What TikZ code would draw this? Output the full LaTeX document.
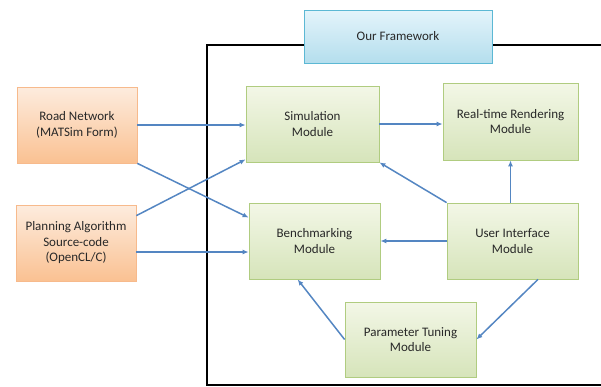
\documentclass[tikz,border=0pt]{standalone}
\usepackage{fontspec}
\setmainfont{Carlito}
\usetikzlibrary{arrows.meta,shadows}

\definecolor{arrowblue}{RGB}{84,134,194}
\definecolor{modtop}{RGB}{243,247,231}
\definecolor{modbot}{RGB}{214,228,186}
\definecolor{modline}{RGB}{176,204,128}
\definecolor{intop}{RGB}{253,236,222}
\definecolor{inbot}{RGB}{250,193,146}
\definecolor{inline}{RGB}{247,186,140}
\definecolor{fwtop}{RGB}{228,244,251}
\definecolor{fwbot}{RGB}{180,222,237}
\definecolor{fwline}{RGB}{92,184,212}
\definecolor{txt}{RGB}{40,40,40}

\begin{document}
\begin{tikzpicture}[x=1pt,y=-1pt,
	>={Latex[length=6pt,width=5pt]},
	box/.style={draw,line width=0.8pt,align=center,inner sep=0pt,text=txt,
		font=\fontsize{13}{15.5}\selectfont,
		drop shadow={shadow xshift=0.6pt,shadow yshift=-1.2pt,opacity=0.35}},
	module/.style={box,top color=modtop,bottom color=modbot,draw=modline},
	input/.style={box,top color=intop,bottom color=inbot,draw=inline},
	link/.style={->,color=arrowblue,line width=1.5pt}]

\clip (0,0) rectangle (601,386);

% frame of the framework
\draw[line width=1.3pt] (207,45) rectangle (620,385);

\node[box,top color=fwtop,bottom color=fwbot,draw=fwline,minimum width=188pt,minimum height=53pt] (fw) at (398,36.5) {Our Framework};

\node[input,minimum width=120pt,minimum height=76pt] (road) at (77,125) {Road Network\\(MATSim Form)};
\node[input,minimum width=120pt,minimum height=76pt] (plan) at (76,243) {Planning Algorithm\\Source-code\\(OpenCL/C)};

\node[module,minimum width=133pt,minimum height=76pt] (sim) at (312.5,124) {Simulation\\Module};
\node[module,minimum width=135pt,minimum height=77pt] (render) at (510.5,121.5) {Real-time Rendering\\Module};
\node[module,minimum width=131pt,minimum height=76pt] (bench) at (314.5,241) {Benchmarking\\Module};
\node[module,minimum width=131pt,minimum height=76pt] (ui) at (512.5,241) {User Interface\\Module};
\node[module,minimum width=131pt,minimum height=75pt] (param) at (410.5,339.5) {Parameter Tuning\\Module};

\draw[link] (road.east) -- (road.east -| sim.west);
\draw[link] (road.south east) -- ([yshift=-15pt]bench.north west);
\draw[link] ([yshift=-11pt]plan.north east) -- ([yshift=3pt]sim.south west);
\draw[link] ([yshift=-9pt]plan.east) -- ([yshift=-9pt]plan.east -| bench.west);
\draw[link] (sim.east) -- (sim.east -| render.west);
\draw[link] (ui.north -| render.south) -- (render.south);
\draw[link] (ui.north west) -- (sim.south east);
\draw[link] (ui.west) -- (bench.east);
\draw[link] ([xshift=25.5pt]ui.south) -- (param.east);
\draw[link] (param.west) -- ([xshift=49pt]bench.south west);

\end{tikzpicture}
\end{document}
